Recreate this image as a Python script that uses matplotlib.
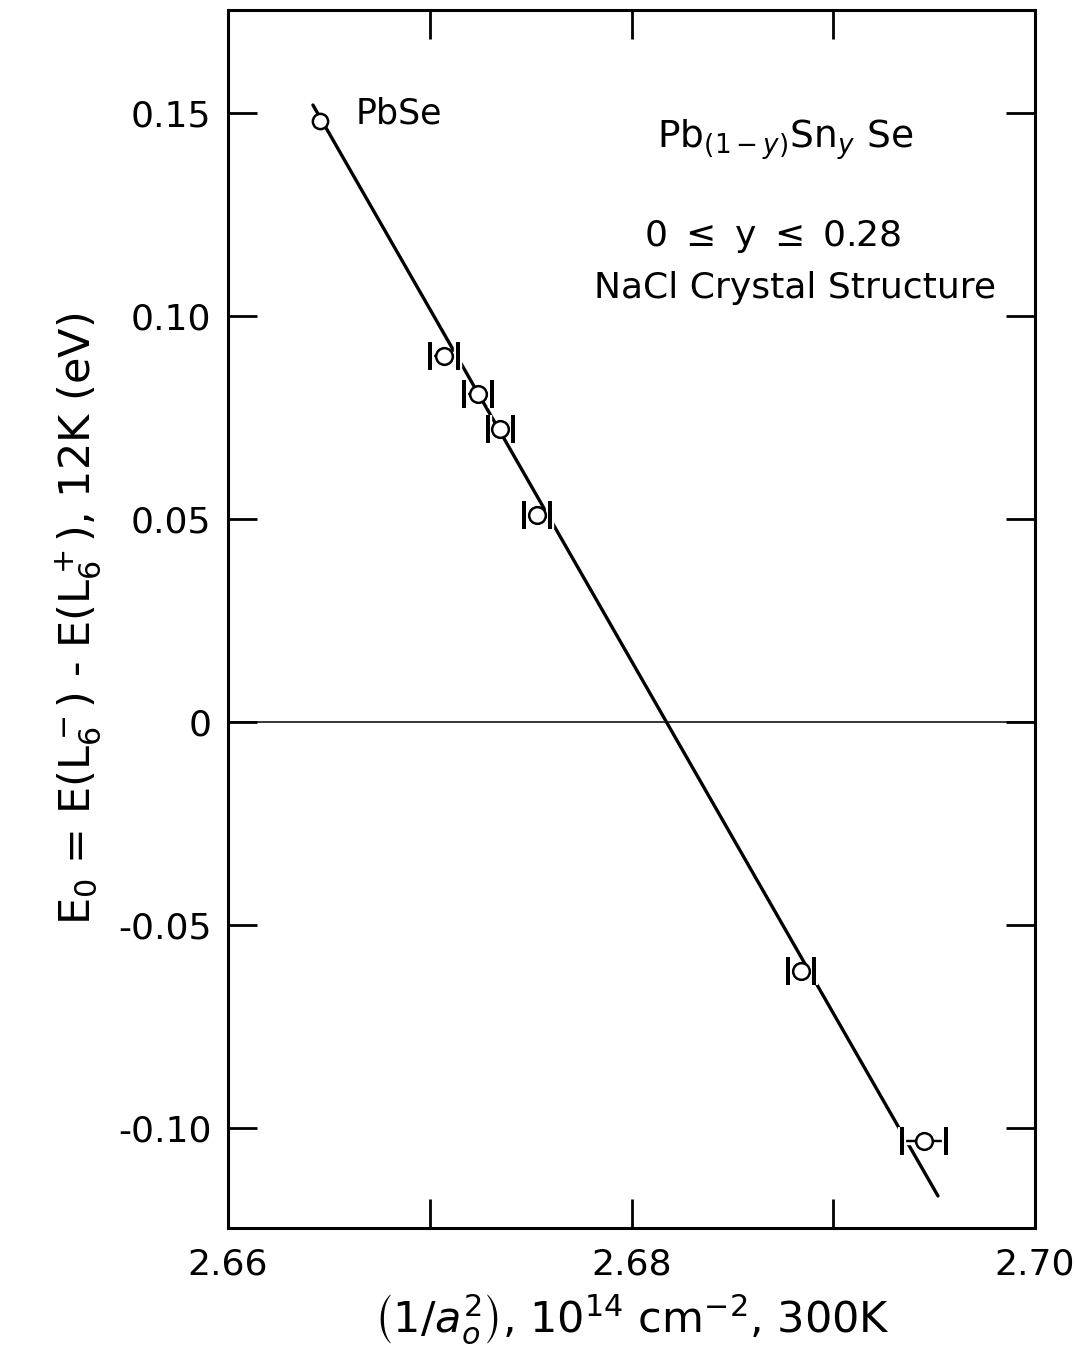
import numpy as np
import matplotlib
matplotlib.use('Agg')
import matplotlib.pyplot as plt
import matplotlib.patheffects as pe
from matplotlib.ticker import FixedLocator, FixedFormatter

# PbSe end point (no error bar)
pbse_x = [2.66456]
pbse_y = [0.1480]

# alloy points: 1/a0^2 (1e14 cm^-2) vs E0 (eV), with x error
inv_a2 = [2.6707, 2.6724, 2.6735, 2.6753, 2.6884, 2.6945]
e_gap  = [0.0901, 0.0808, 0.0722, 0.0510, -0.0613, -0.1032]
x_err  = [0.0007, 0.00068, 0.00062, 0.00065, 0.00065, 0.0011]

# straight-line fit drawn through the data
fit_x = [2.66421, 2.69519]
fit_y = [0.1520, -0.1167]

x_major = [2.66, 2.68, 2.70]
x_major_labels = ['2.66', '2.68', '2.70']
x_minor = [2.67, 2.69]
y_ticks = [0.15, 0.10, 0.05, 0.0, -0.05, -0.10]
y_tick_labels = ['0.15', '0.10', '0.05', '0', '-0.05', '-0.10']

plt.rcParams['font.family'] = ['DejaVu Sans']
plt.rcParams['mathtext.fontset'] = 'dejavusans'

fig = plt.figure(figsize=(10.75, 13.52), dpi=100)
ax = fig.add_axes([0.2121, 0.0917, 0.7507, 0.9009])

ax.set_xlim(2.66, 2.70)
ax.set_ylim(-0.1246, 0.1754)

ax.axhline(0, color='black', lw=1.1)
ax.plot(fit_x, fit_y, color='black', lw=2.4, solid_capstyle='round')

halo = [pe.withStroke(linewidth=6, foreground='white'), pe.Normal()]
eb = ax.errorbar(inv_a2, e_gap, xerr=x_err, fmt='none', ecolor='black',
                 elinewidth=1.6, capsize=10, capthick=2.8, zorder=5)
for art in list(eb.lines[1]) + list(eb.lines[2]):
    art.set_path_effects(halo)
ax.plot(inv_a2, e_gap, 'o', ms=12, mfc='white', mec='black', mew=1.8, zorder=6)
ax.plot(pbse_x, pbse_y, 'o', ms=11, mfc='white', mec='black', mew=1.8, zorder=6)

for s in ax.spines.values():
    s.set_linewidth(2.2)

ax.xaxis.set_major_locator(FixedLocator(x_major))
ax.xaxis.set_major_formatter(FixedFormatter(x_major_labels))
ax.xaxis.set_minor_locator(FixedLocator(x_minor))
ax.yaxis.set_major_locator(FixedLocator(y_ticks))
ax.yaxis.set_major_formatter(FixedFormatter(y_tick_labels))

ax.tick_params(axis='both', which='both', direction='in', top=True, right=True,
               width=2.0, length=21, labelsize=26)
ax.tick_params(axis='x', which='major', pad=14)
ax.tick_params(axis='y', which='major', pad=12)

ax.set_xlabel(r'$\left(1/a_o^2\right)$, 10$^{14}$ cm$^{-2}$, 300K',
              fontsize=31, labelpad=8)
ax.set_ylabel(r'E$_0$ = E(L$_6^-$) - E(L$_6^+$), 12K (eV)',
              fontsize=31, labelpad=10)

ax.text(2.66635, 0.150, 'PbSe', fontsize=25, ha='left', va='center')
ax.text(2.6876, 0.1435, r'Pb$_{(1-y)}$Sn$_y$ Se', fontsize=27,
        ha='center', va='center')
ax.text(2.6870, 0.1197, r'0 $\leq$ y $\leq$ 0.28', fontsize=26,
        ha='center', va='center')
ax.text(2.6881, 0.1070, 'NaCl Crystal Structure', fontsize=26,
        ha='center', va='center')

fig.savefig('out.png', dpi=100)
